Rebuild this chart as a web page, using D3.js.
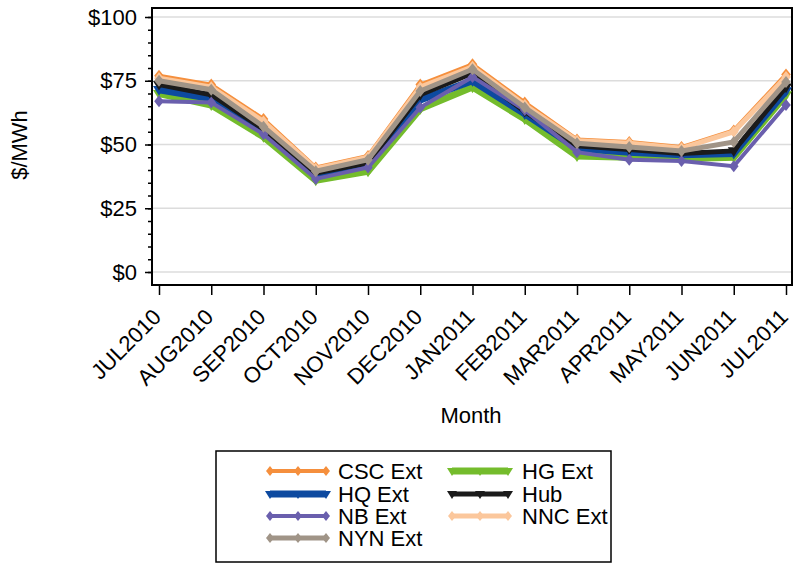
<!DOCTYPE html>
<html>
  <head>
    <meta charset="utf-8" />
    <title>chart</title>
    <script type="text/javascript" src="https://d3js.org/d3.v7.min.js"></script>
    <style>
      body { margin: 0; background: #fff; }
      text { font-family: "Liberation Sans", Arial, sans-serif; fill: #000; }
    </style>
  </head>
  <body>
    <div id="chart"></div>
    <script>
const months = ['JUL2010', 'AUG2010', 'SEP2010', 'OCT2010', 'NOV2010', 'DEC2010', 'JAN2011',
  'FEB2011', 'MAR2011', 'APR2011', 'MAY2011', 'JUN2011', 'JUL2011'];
const yTicks = [0, 25, 50, 75, 100];

// series in draw order (alphabetical, last on top)
const cscExt = [77, 73.5, 60, 41, 45.5, 73.5, 81.5, 66.5, 52, 51, 49, 55.5, 77.5];
const hgExt  = [70, 65.5, 53, 36, 39.5, 64, 72.5, 60, 45.5, 45, 44.5, 45, 69.5];
const hqExt  = [71.5, 68, 55, 38, 42, 67.5, 75, 62, 48.5, 47, 46, 46.5, 71];
const hub    = [73.5, 69.5, 56, 38.8, 42.8, 69.5, 78, 63, 49.5, 48, 46.5, 47.5, 72.5];
const nbExt  = [67, 66.5, 54, 36.5, 41, 64.5, 76.5, 63.5, 47, 44, 43.5, 41.5, 65.5];
const nncExt = [76, 72.5, 59, 40.5, 45, 72.5, 80.5, 65.5, 51.5, 50.5, 48.5, 55, 76.5];
const nynExt = [75, 71.5, 57, 39.5, 44, 71, 79.5, 64.5, 50.5, 49, 47.5, 51, 74.5];

const seriesNames = ['CSC Ext', 'HG Ext', 'HQ Ext', 'Hub', 'NB Ext', 'NNC Ext', 'NYN Ext'];
const seriesValues = [cscExt, hgExt, hqExt, hub, nbExt, nncExt, nynExt];
const seriesColors = ['#f58f3d', '#74bc2c', '#0d4aa0', '#1b1b1b', '#6a5fad', '#fbc79c', '#a09487'];
const seriesWidths = [4, 7, 7, 5, 4, 5, 5];
const seriesMarkers = ['diamond', 'down', 'down', 'down', 'diamond', 'diamond', 'diamond'];

const W = 796, H = 563;
const FONT = '"Liberation Sans", Arial, sans-serif';
const svg = d3.select('#chart').append('svg').attr('width', W).attr('height', H);

const frame = { left: 152, top: 8, right: 792, bottom: 285 };
const x = d3.scalePoint().domain(months).range([159, 786]);
const y = d3.scaleLinear().domain([0, 100]).range([272, 17]);

// gridlines
svg.append('g').selectAll('line').data(yTicks).join('line')
  .attr('x1', frame.left).attr('x2', frame.right)
  .attr('y1', d => y(d)).attr('y2', d => y(d))
  .attr('stroke', '#dcdcdc').attr('stroke-width', 1.5);

// y axis with minor ticks
const yAxisG = svg.append('g').attr('transform', `translate(${frame.left},0)`);
yAxisG.call(d3.axisLeft(y).tickValues(d3.range(0, 101, 5)).tickSize(4).tickFormat(''))
  .call(g => g.select('.domain').remove())
  .call(g => g.selectAll('line').attr('stroke', '#000').attr('stroke-width', 1.5));
yAxisG.append('g').call(d3.axisLeft(y).tickValues(yTicks).tickSize(7).tickPadding(8).tickFormat(d => '$' + d))
  .call(g => g.select('.domain').remove())
  .call(g => g.selectAll('line').attr('stroke', '#000').attr('stroke-width', 1.5))
  .call(g => g.selectAll('text').attr('fill', '#000')
    .style('font-size', '22px').style('font-family', FONT));

// x axis
const xAxisG = svg.append('g').attr('transform', `translate(0,${frame.bottom})`);
xAxisG.call(d3.axisBottom(x).tickSize(10).tickFormat(''))
  .call(g => g.select('.domain').remove())
  .call(g => g.selectAll('line').attr('stroke', '#000').attr('stroke-width', 1.5));
xAxisG.selectAll('.lbl').data(months).join('text')
  .attr('class', 'lbl')
  .attr('transform', d => `translate(${x(d) - 2},${28}) rotate(-45)`)
  .attr('text-anchor', 'end')
  .attr('dy', '0.35em')
  .style('font-size', '22px')
  .text(d => d);

// frame
svg.append('rect')
  .attr('x', frame.left).attr('y', frame.top)
  .attr('width', frame.right - frame.left).attr('height', frame.bottom - frame.top)
  .attr('fill', 'none').attr('stroke', '#000').attr('stroke-width', 2);

// axis titles
svg.append('text').attr('transform', 'translate(27,145) rotate(-90)')
  .attr('text-anchor', 'middle').style('font-size', '22px').text('$/MWh');
svg.append('text').attr('x', 471).attr('y', 423)
  .attr('text-anchor', 'middle').style('font-size', '22px').text('Month');

function markerPath(type, s) {
  if (type === 'down') return `M${-s},${-s * 0.6}L${s},${-s * 0.6}L0,${s}Z`;
  return `M0,${-s}L${s * 0.8},0L0,${s}L${-s * 0.8},0Z`;
}

const line = d3.line().x((d, i) => x(months[i])).y(d => y(d));
const plot = svg.append('g');
seriesValues.forEach((vals, k) => {
  const g = plot.append('g');
  g.append('path').datum(vals)
    .attr('d', line)
    .attr('fill', 'none')
    .attr('stroke', seriesColors[k])
    .attr('stroke-width', seriesWidths[k])
    .attr('stroke-linejoin', 'miter');
  g.selectAll('path.m').data(vals).join('path')
    .attr('class', 'm')
    .attr('transform', (d, i) => `translate(${x(months[i])},${y(d)})`)
    .attr('d', markerPath(seriesMarkers[k], 6))
    .attr('fill', seriesColors[k]);
});

// legend
svg.append('rect').attr('x', 216).attr('y', 451).attr('width', 395).attr('height', 111)
  .attr('fill', '#fff').attr('stroke', '#000').attr('stroke-width', 1.5);
const legendOrder = [0, 2, 4, 6, 1, 3, 5];
const legendCols = [{ lx: 270, tx: 338 }, { lx: 452, tx: 522 }];
const rowY = [471, 494, 516, 538];
legendOrder.forEach((k, n) => {
  const col = n < 4 ? 0 : 1;
  const row = n < 4 ? n : n - 4;
  const lx = legendCols[col].lx, ly = rowY[row];
  const g = svg.append('g');
  g.append('line').attr('x1', lx).attr('x2', lx + 56).attr('y1', ly).attr('y2', ly)
    .attr('stroke', seriesColors[k]).attr('stroke-width', seriesWidths[k]);
  [0, 28, 56].forEach(dx => {
    g.append('path').attr('transform', `translate(${lx + dx},${ly})`)
      .attr('d', markerPath(seriesMarkers[k], 5)).attr('fill', seriesColors[k]);
  });
  g.append('text').attr('x', legendCols[col].tx).attr('y', ly).attr('dy', '0.36em')
    .style('font-size', '22px').text(seriesNames[k]);
});
    </script>
  </body>
</html>
